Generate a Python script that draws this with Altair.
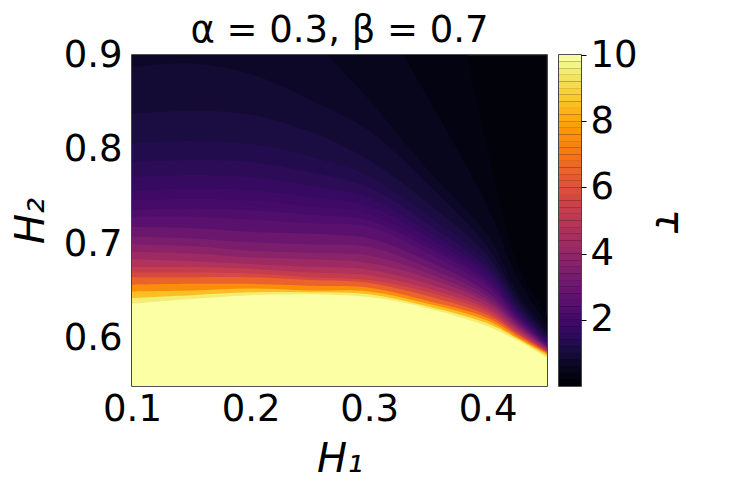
import altair as alt
import pandas as pd

# H1 positions at which contour heights were read
h1_samples = [0.10, 0.15, 0.20, 0.25, 0.30, 0.35, 0.40, 0.425, 0.45]
# tau contour levels
levels = [0.2, 0.4, 0.6, 0.8, 1.0, 1.2, 1.4, 1.6, 1.8, 2.0, 2.2, 2.4,
          2.8, 3.2, 3.6, 4.0, 4.5, 5.0, 5.5, 6.0, 7.0, 8.0, 9.0, 10.0]

# H2 of each contour level (same order as levels), one list per H1 sample
h2_at_h1_010 = [1.60, 1.35, 1.15, 0.887, 0.838, 0.807, 0.787, 0.771, 0.756, 0.746, 0.736, 0.729,
                0.718, 0.708, 0.700, 0.692, 0.684, 0.676, 0.670, 0.665, 0.657, 0.650, 0.643, 0.637]
h2_at_h1_015 = [1.58, 1.30, 1.12, 0.891, 0.841, 0.809, 0.789, 0.773, 0.759, 0.748, 0.738, 0.729,
                0.717, 0.706, 0.698, 0.690, 0.682, 0.676, 0.670, 0.665, 0.658, 0.651, 0.646, 0.642]
h2_at_h1_020 = [1.55, 1.25, 1.05, 0.880, 0.837, 0.806, 0.787, 0.771, 0.757, 0.746, 0.736, 0.726,
                0.713, 0.702, 0.693, 0.686, 0.679, 0.674, 0.669, 0.665, 0.658, 0.653, 0.649, 0.646]
h2_at_h1_025 = [1.50, 1.07, 0.925, 0.853, 0.819, 0.793, 0.776, 0.762, 0.750, 0.740, 0.731, 0.722,
                0.711, 0.700, 0.691, 0.684, 0.676, 0.670, 0.665, 0.662, 0.656, 0.651, 0.649, 0.647]
h2_at_h1_030 = [1.40, 0.963, 0.853, 0.820, 0.789, 0.772, 0.760, 0.749, 0.740, 0.732, 0.725, 0.718,
                0.706, 0.697, 0.688, 0.680, 0.673, 0.667, 0.662, 0.659, 0.654, 0.650, 0.647, 0.644]
h2_at_h1_035 = [1.10, 0.854, 0.778, 0.763, 0.743, 0.730, 0.721, 0.713, 0.707, 0.701, 0.696, 0.690,
                0.682, 0.675, 0.669, 0.664, 0.658, 0.653, 0.649, 0.645, 0.640, 0.637, 0.634, 0.632]
h2_at_h1_040 = [0.80, 0.740, 0.710, 0.697, 0.688, 0.681, 0.675, 0.670, 0.666, 0.662, 0.659, 0.655,
                0.649, 0.645, 0.641, 0.638, 0.634, 0.631, 0.628, 0.625, 0.622, 0.619, 0.616, 0.613]
h2_at_h1_0425 = [0.68, 0.665, 0.650, 0.644, 0.639, 0.635, 0.632, 0.629, 0.627, 0.625, 0.623, 0.621,
                 0.618, 0.616, 0.614, 0.612, 0.610, 0.608, 0.606, 0.605, 0.603, 0.601, 0.600, 0.598]
h2_at_h1_045 = [0.625, 0.615, 0.610, 0.606, 0.603, 0.601, 0.599, 0.597, 0.596, 0.595, 0.594, 0.593,
                0.592, 0.591, 0.590, 0.589, 0.588, 0.587, 0.586, 0.586, 0.585, 0.584, 0.582, 0.580]

columns = [h2_at_h1_010, h2_at_h1_015, h2_at_h1_020, h2_at_h1_025, h2_at_h1_030,
           h2_at_h1_035, h2_at_h1_040, h2_at_h1_0425, h2_at_h1_045]

# colour bar levels (contourf bands)
cbar_levels = [round(0.2 * k, 1) for k in range(51)]
x_ticks = [0.1, 0.2, 0.3, 0.4]
y_ticks = [0.6, 0.7, 0.8, 0.9]
cbar_ticks = [2, 4, 6, 8, 10]

FONT = "DejaVu Sans"

rows = []
for i, lv in enumerate(levels):
    mid = (lv + levels[i + 1]) / 2 if i + 1 < len(levels) else lv
    for j, h1 in enumerate(h1_samples):
        rows.append({"lvl": i, "h1": h1, "h2": columns[j][i], "mid": mid})
df = pd.DataFrame(rows)

color_scale = alt.Scale(scheme="inferno", domain=[0, 10])

base = alt.Chart(df).mark_area(interpolate="catmull-rom", clip=True, opacity=1).encode(
    x=alt.X("h1:Q", scale=alt.Scale(domain=[0.1, 0.45], nice=False, zero=False),
            axis=alt.Axis(values=x_ticks, format=".1f", title="H₁", labelFlush=False,
                          labelPadding=5, titlePadding=12)),
    y=alt.Y("h2:Q", stack=None, scale=alt.Scale(domain=[0.55, 0.9], nice=False, zero=False),
            axis=alt.Axis(values=y_ticks, format=".1f", title="H₂", labelFlush=False,
                          labelPadding=10, titlePadding=12)),
    y2=alt.datum(0.55),
    color=alt.Color("mid:Q", scale=color_scale, legend=None),
)

main = alt.layer(*[base.transform_filter(alt.datum.lvl == i) for i in range(len(levels))]).properties(
    width=415, height=331,
    title=alt.Title("α = 0.3, β = 0.7", font=FONT, fontSize=37, fontWeight="normal",
                    color="black", offset=-14, frame="group"),
)

cdf = pd.DataFrame({
    "lo": cbar_levels[:-1],
    "hi": cbar_levels[1:],
    "mid": [(a + b) / 2 for a, b in zip(cbar_levels[:-1], cbar_levels[1:])],
})

cbar = alt.Chart(cdf).mark_rect().encode(
    y=alt.Y("lo:Q", scale=alt.Scale(domain=[0, 10], nice=False, zero=False),
            axis=alt.Axis(orient="right", values=cbar_ticks, format="d", title="τ",
                          ticks=True, tickSize=5, tickColor="black", labelPadding=4,
                          titleAngle=90, titleFontStyle="italic", titlePadding=10,
                          labelFlush=False)),
    y2="hi:Q",
    x=alt.value(0),
    x2=alt.value("width"),
    color=alt.Color("mid:Q", scale=color_scale, legend=None),
).properties(width=22, height=331)

chart = alt.hconcat(main, cbar, spacing=10).properties(
    padding={"left": 2, "top": 3, "right": 5, "bottom": 5}
).configure_view(
    stroke="#1a1a1a", strokeWidth=1.6, fill="#02020b"
).configure_axis(
    labelFont=FONT, labelFontSize=37, labelColor="black",
    titleFont=FONT, titleFontSize=40, titleFontWeight="normal", titleColor="black",
    titleFontStyle="italic", domain=False, ticks=False, tickSize=0, grid=False,
)

chart.save("out.html", embed_options={"renderer": "svg", "actions": False})
